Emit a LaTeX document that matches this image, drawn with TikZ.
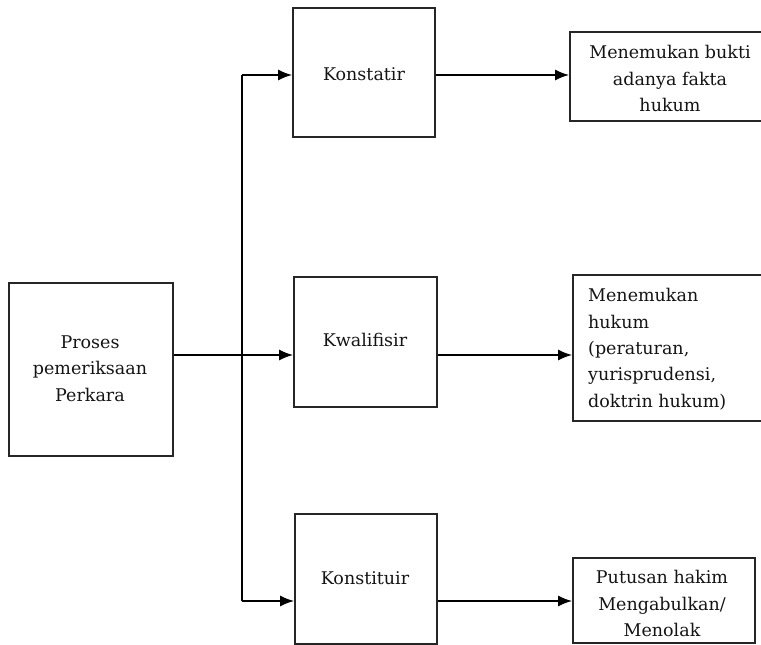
\documentclass[tikz,border=0pt]{standalone}
\usepackage{fontspec}
\setmainfont{DejaVu Serif}
\usetikzlibrary{arrows.meta,calc}
\begin{document}
\begin{tikzpicture}[x=1pt,y=-1pt,
  every node/.style={font=\fontsize{17.5}{26.5}\selectfont, text=black!92},
  box/.style={draw=black!85, line width=1.6pt, anchor=north west, inner sep=0pt, align=center},
  conn/.style={line width=1.3pt, draw=black},
  arr/.style={conn, -{Latex[length=14pt,width=11pt]}}]
\clip (0,0) rectangle (761,645);
% boxes
\node[box, minimum width=164pt, minimum height=173pt] (proses) at (8,282) {};
\node[align=center, anchor=north] at (90,332) {Proses\\pemeriksaan\\Perkara};
\node[box, minimum width=142pt, minimum height=129pt] (konstatir) at (292,7) {};
\node[anchor=base] at (364,80) {Konstatir};
\node[box, minimum width=143pt, minimum height=130pt] (kwalifisir) at (293,276) {};
\node[anchor=base] at (365,346) {Kwalifisir};
\node[box, minimum width=200pt, minimum height=89pt] (bukti) at (569,31) {};
\node[box, minimum width=142pt, minimum height=130pt] (konstituir) at (294,513) {};
\node[anchor=base] at (365,584) {Konstituir};
\node[align=center, anchor=north] at (670,42) {Menemukan bukti\\adanya fakta\\hukum};
\node[box, minimum width=200pt, minimum height=146pt] (hukum) at (572,274) {};
\node[align=left, anchor=north west, inner sep=0pt] at (588,288) {Menemukan\\hukum\\(peraturan,\\yurisprudensi,\\doktrin hukum)};
\node[box, minimum width=182pt, minimum height=85pt] (putusan) at (572,557) {};
\node[align=center, anchor=north] at (662,567) {Putusan hakim\\Mengabulkan/\\Menolak};
% junctions
\coordinate (j1) at (242,75);
\coordinate (j2) at (242,355);
\coordinate (j3) at (242,601);
% connectors
\draw[conn] (j1) -- (j3);
\draw[arr] (proses.east |- j2) -- (kwalifisir.west |- j2);
\draw[arr] (j1) -- (konstatir.west |- j1);
\draw[arr] (j3) -- (konstituir.west |- j3);
\draw[arr] (konstatir.east |- j1) -- (bukti.west |- j1);
\draw[arr] (kwalifisir.east |- j2) -- (hukum.west |- j2);
\draw[arr] (konstituir.east |- j3) -- (putusan.west |- j3);
\end{tikzpicture}
\end{document}
